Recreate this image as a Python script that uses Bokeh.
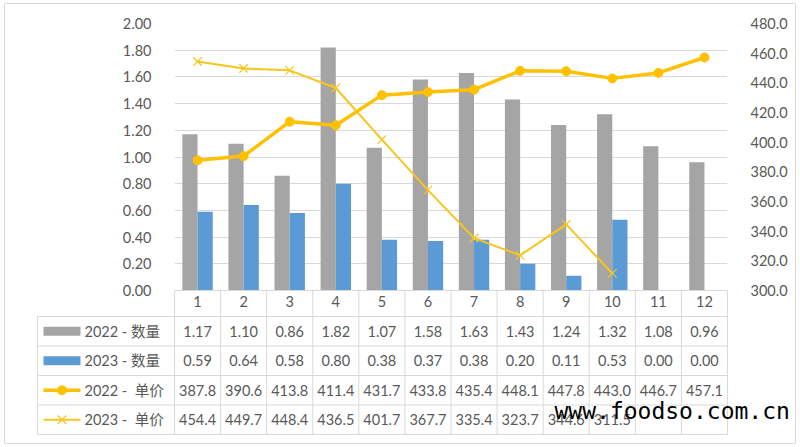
from bokeh.plotting import figure
from bokeh.models import (Range1d, LinearAxis, FixedTicker, NumeralTickFormatter,
                          ColumnDataSource, Grid)
from bokeh.transform import dodge
from bokeh.core.properties import value
from bokeh.embed import file_html
from bokeh.resources import INLINE

# ---------------- data ----------------
months = [1, 2, 3, 4, 5, 6, 7, 8, 9, 10, 11, 12]
qty_2022 = [1.17, 1.10, 0.86, 1.82, 1.07, 1.58, 1.63, 1.43, 1.24, 1.32, 1.08, 0.96]
qty_2023 = [0.59, 0.64, 0.58, 0.80, 0.38, 0.37, 0.38, 0.20, 0.11, 0.53, 0.00, 0.00]
price_2022 = [387.8, 390.6, 413.8, 411.4, 431.7, 433.8, 435.4, 448.1, 447.8, 443.0, 446.7, 457.1]
price_2023 = [454.4, 449.7, 448.4, 436.5, 401.7, 367.7, 335.4, 323.7, 344.6, 311.5]
series_names = ["2022 - 数量", "2023 - 数量", "2022 - \u00a0单价", "2023 - \u00a0单价"]
left_ticks = [0.0, 0.2, 0.4, 0.6, 0.8, 1.0, 1.2, 1.4, 1.6, 1.8, 2.0]
right_ticks = [300, 320, 340, 360, 380, 400, 420, 440, 460, 480]
watermark = "www.foodso.com.cn"

# ---------------- style ----------------
GRAY = "#A5A5A5"
BLUE = "#5B9BD5"
GOLD = "#FFC000"
GOLD2 = "#F7C61C"
TXT = "#595959"
GRID = "#D9D9D9"
FONT = "Lato, 'Noto Sans CJK SC', sans-serif"
FS = "14.5px"

W = 790
ML, MR = 169, 68
TOP_H = 312          # page y 4 .. 316
MT, MB = 19, 26
FRAME_W = W - ML - MR
COLW = FRAME_W / 12.0

# ---------------- chart ----------------
p = figure(width=W, height=TOP_H, x_range=Range1d(0.5, 12.5), y_range=Range1d(0, 2),
           output_backend="svg", toolbar_location=None, title=None,
           x_axis_type=None, y_axis_type=None,
           min_border_left=ML, min_border_right=MR, min_border_top=MT, min_border_bottom=MB,
           outline_line_color=None, background_fill_color="white", border_fill_color="white",
           margin=(4, 0, 0, 5),
           styles={"box-shadow": "-1px 0 0 #D9D9D9, 1px 0 0 #D9D9D9, 0 -1px 0 #D9D9D9"})
p.extra_y_ranges = {"price": Range1d(300, 480)}

lt = FixedTicker(ticks=left_ticks)
p.add_layout(Grid(dimension=1, ticker=lt, grid_line_color=GRID, grid_line_width=1))

lax = LinearAxis(ticker=lt, formatter=NumeralTickFormatter(format="0.00"),
                 axis_line_color=None, major_tick_line_color=None, minor_tick_line_color=None,
                 major_label_standoff=17, major_label_text_font=FONT,
                 major_label_text_font_size=FS, major_label_text_color=TXT)
p.add_layout(lax, "left")

rax = LinearAxis(y_range_name="price", ticker=FixedTicker(ticks=right_ticks),
                 formatter=NumeralTickFormatter(format="0.0"),
                 axis_line_color=None, major_tick_line_color=None, minor_tick_line_color=None,
                 major_label_standoff=17, major_label_text_font=FONT,
                 major_label_text_font_size=FS, major_label_text_color=TXT)
p.add_layout(rax, "right")

# category axis: month numbers sit in the header row of the data table
bax = LinearAxis(ticker=FixedTicker(ticks=months),
                 axis_line_color=GRID, major_tick_line_color=None, minor_tick_line_color=None,
                 major_tick_out=0, major_tick_in=0, minor_tick_out=0, minor_tick_in=0,
                 major_label_standoff=5, major_label_text_font=FONT,
                 major_label_text_font_size=FS, major_label_text_color=TXT)
p.add_layout(bax, "below")

src = ColumnDataSource(dict(month=months, q22=qty_2022, q23=qty_2023, p22=price_2022))
src23 = ColumnDataSource(dict(month=months[:len(price_2023)], p23=price_2023))

p.vbar(x=dodge("month", -0.165), top="q22", width=0.33, source=src,
       fill_color=GRAY, line_color=None)
p.vbar(x=dodge("month", 0.165), top="q23", width=0.33, source=src,
       fill_color=BLUE, line_color=None)

p.line("month", "p22", source=src, y_range_name="price", line_color=GOLD, line_width=3.5)
p.scatter("month", "p22", source=src, y_range_name="price", marker="circle", size=9,
          fill_color=GOLD, line_color=GOLD)
p.line("month", "p23", source=src23, y_range_name="price", line_color=GOLD2, line_width=2)
p.scatter("month", "p23", source=src23, y_range_name="price", marker="x", size=12,
          line_color=GOLD2, line_width=1.2)

# ---------------- data table (overlaps the header row, transparent) ----------------
TAB_H = 153          # page y 290 .. 443
ROW_H = 29.5
HDR_TOP = 26.0       # canvas y of the first data-row line (page 316)


def px2x(px):
    return 0.5 + (px - ML) / COLW


def py2y(py):
    return (py - HDR_TOP) / ROW_H


x_lo, x_hi = px2x(0), px2x(W)
y_top, y_bot = py2y(0), py2y(TAB_H)

t = figure(width=W, height=TAB_H, x_range=Range1d(x_lo, x_hi), y_range=Range1d(y_bot, y_top),
           output_backend="svg", toolbar_location=None, title=None,
           x_axis_type=None, y_axis_type=None,
           min_border_left=0, min_border_right=0, min_border_top=0, min_border_bottom=0,
           outline_line_color=None, background_fill_color=None, border_fill_color=None,
           margin=(-26, 0, 0, 5),
           styles={"box-shadow": "-1px 0 0 #D9D9D9, 1px 0 0 #D9D9D9, 0 1px 0 #D9D9D9"})

LEG_X = px2x(32)
rows = [0, 1, 2, 3, 4]
t.segment(x0=[LEG_X] * 5, y0=rows, x1=[12.5] * 5, y1=rows, line_color=GRID, line_width=1)
t.segment(x0=[LEG_X], y0=[0], x1=[LEG_X], y1=[4], line_color=GRID, line_width=1)
vx = [m - 0.5 for m in months] + [12.5]
t.segment(x0=vx, y0=[y_top] * len(vx), x1=vx, y1=[4] * len(vx),
          line_color=GRID, line_width=1)

cx, cy, ct = [], [], []
for r, (vals, fmt) in enumerate([(qty_2022, "{:.2f}"), (qty_2023, "{:.2f}"),
                                 (price_2022, "{:.1f}"), (price_2023, "{:.1f}")]):
    for m, v in zip(months, vals):
        cx.append(m)
        cy.append(r + 0.5)
        ct.append(fmt.format(v))
t.text(x=cx, y=cy, text=ct, text_align="center", text_baseline="middle",
       text_font=value(FONT), text_font_size=FS, text_color=TXT)

t.text(x=[px2x(79)] * 4, y=[0.5, 1.5, 2.5, 3.5], text=series_names,
       text_align="left", text_baseline="middle",
       text_font=value(FONT), text_font_size=FS, text_color=TXT)

KX0, KX1 = px2x(38), px2x(75)
KXC = (KX0 + KX1) / 2
t.rect(x=[KXC], y=[0.5], width=KX1 - KX0, height=9, height_units="screen",
       fill_color=GRAY, line_color=None)
t.rect(x=[KXC], y=[1.5], width=KX1 - KX0, height=9, height_units="screen",
       fill_color=BLUE, line_color=None)
t.segment(x0=[KX0], y0=[2.5], x1=[KX1], y1=[2.5], line_color=GOLD, line_width=3.5)
t.scatter(x=[KXC], y=[2.5], marker="circle", size=9, fill_color=GOLD, line_color=GOLD)
t.segment(x0=[KX0], y0=[3.5], x1=[KX1], y1=[3.5], line_color=GOLD2, line_width=2)
t.scatter(x=[KXC], y=[3.5], marker="x", size=12, line_color=GOLD2, line_width=1.2)

t.text(x=[px2x(549)], y=[py2y(410 - 290)], text=[watermark],
       text_align="left", text_baseline="middle",
       text_font=value("DejaVu Sans Mono"), text_font_size="23px", text_color="#000000")

open("out.html", "w").write(file_html([p, t], INLINE))
